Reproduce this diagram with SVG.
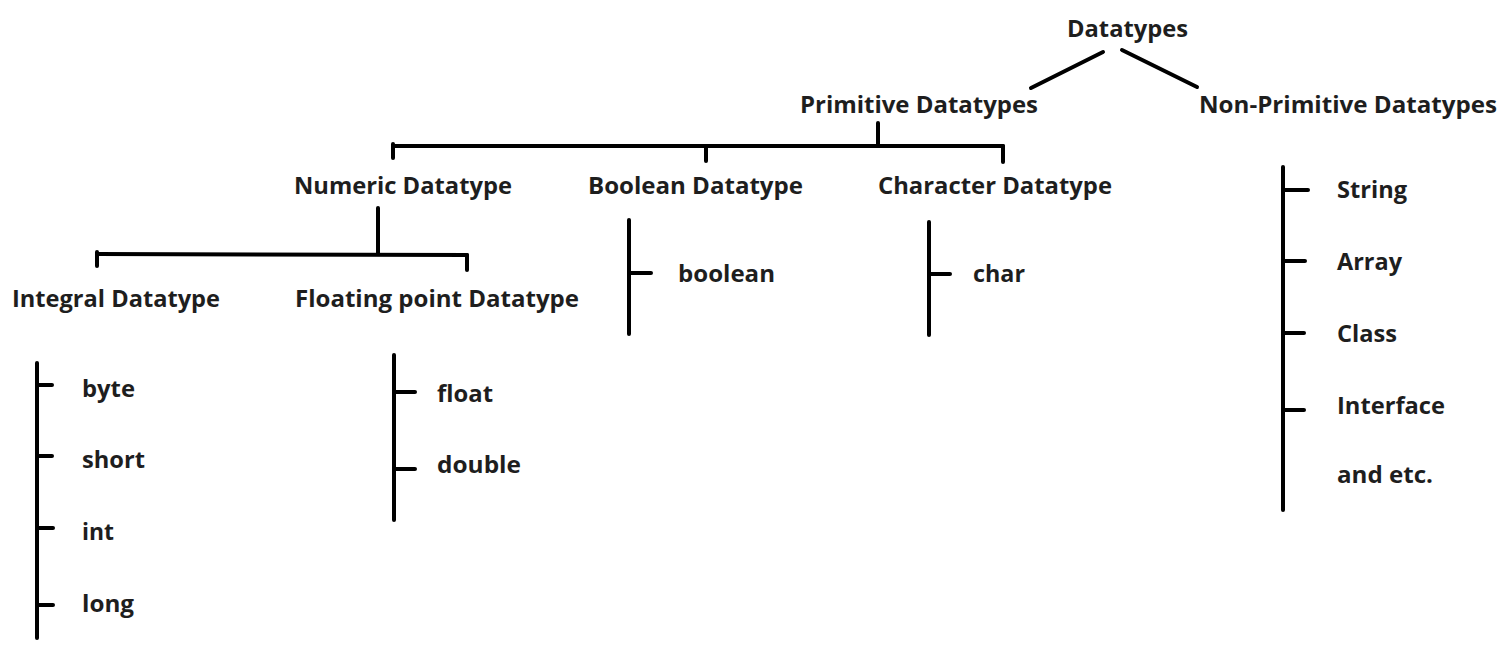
<svg xmlns="http://www.w3.org/2000/svg" width="1502" height="666" viewBox="0 0 1502 666">
<style>
text{font-family:"Open Sans","Noto Sans","Liberation Sans",sans-serif;font-weight:bold;font-size:24px;fill:#1e1e1e}
.c line{stroke:#000;stroke-width:4;stroke-linecap:round}
</style>
<rect width="1502" height="666" fill="#fff"/>
<g class="c" id="connectors">
<line x1="1103" y1="52" x2="1031" y2="88"/>
<line x1="1122" y1="50" x2="1197" y2="87"/>
<line x1="878" y1="123" x2="878" y2="146"/>
<line x1="393" y1="146" x2="1003" y2="146"/>
<line x1="393" y1="144" x2="393" y2="158"/>
<line x1="706" y1="146" x2="706" y2="161"/>
<line x1="1003" y1="146" x2="1003" y2="162"/>
<line x1="378" y1="208" x2="378" y2="254"/>
<line x1="97" y1="254" x2="467" y2="255"/>
<line x1="97" y1="252" x2="97" y2="266"/>
<line x1="467" y1="255" x2="467" y2="270"/>
<line x1="37" y1="363" x2="37" y2="638"/>
<line x1="37" y1="385" x2="52" y2="385"/>
<line x1="37" y1="456" x2="52" y2="456"/>
<line x1="37" y1="528" x2="53" y2="528"/>
<line x1="37" y1="605" x2="53" y2="605"/>
<line x1="394" y1="355" x2="394" y2="520"/>
<line x1="394" y1="392" x2="415" y2="392"/>
<line x1="394" y1="469" x2="415" y2="469"/>
<line x1="629" y1="220" x2="629" y2="334"/>
<line x1="629" y1="273" x2="651" y2="273"/>
<line x1="929" y1="222" x2="929" y2="335"/>
<line x1="929" y1="274" x2="950" y2="274"/>
<line x1="1283" y1="167" x2="1283" y2="510"/>
<line x1="1283" y1="190" x2="1308" y2="190"/>
<line x1="1283" y1="261" x2="1305" y2="261"/>
<line x1="1283" y1="333" x2="1304" y2="333"/>
<line x1="1283" y1="410" x2="1304" y2="410"/>
</g>
<g id="n-datatypes"><text x="1067" y="37" textLength="121" lengthAdjust="spacingAndGlyphs">Datatypes</text></g>
<g id="n-primitive"><text x="800" y="113" textLength="238" lengthAdjust="spacingAndGlyphs">Primitive Datatypes</text></g>
<g id="n-nonprimitive"><text x="1199" y="113" textLength="298" lengthAdjust="spacingAndGlyphs">Non-Primitive Datatypes</text></g>
<g id="n-numeric"><text x="294" y="194" textLength="218" lengthAdjust="spacingAndGlyphs">Numeric Datatype</text></g>
<g id="n-boolean-dt"><text x="588" y="194" textLength="215" lengthAdjust="spacingAndGlyphs">Boolean Datatype</text></g>
<g id="n-character-dt"><text x="878" y="194" textLength="234" lengthAdjust="spacingAndGlyphs">Character Datatype</text></g>
<g id="n-integral"><text x="12" y="307" textLength="208" lengthAdjust="spacingAndGlyphs">Integral Datatype</text></g>
<g id="n-floating"><text x="295" y="307" textLength="284" lengthAdjust="spacingAndGlyphs">Floating point Datatype</text></g>
<g id="n-byte"><text x="82" y="397" textLength="53" lengthAdjust="spacingAndGlyphs">byte</text></g>
<g id="n-short"><text x="82" y="468" textLength="63" lengthAdjust="spacingAndGlyphs">short</text></g>
<g id="n-int"><text x="82" y="540" textLength="32" lengthAdjust="spacingAndGlyphs">int</text></g>
<g id="n-long"><text x="82" y="612" textLength="52" lengthAdjust="spacingAndGlyphs">long</text></g>
<g id="n-float"><text x="437" y="402" textLength="56" lengthAdjust="spacingAndGlyphs">float</text></g>
<g id="n-double"><text x="437" y="473" textLength="84" lengthAdjust="spacingAndGlyphs">double</text></g>
<g id="n-boolean"><text x="678" y="282" textLength="97" lengthAdjust="spacingAndGlyphs">boolean</text></g>
<g id="n-char"><text x="973" y="282" textLength="52" lengthAdjust="spacingAndGlyphs">char</text></g>
<g id="n-string"><text x="1337" y="198" textLength="70" lengthAdjust="spacingAndGlyphs">String</text></g>
<g id="n-array"><text x="1337" y="270" textLength="65" lengthAdjust="spacingAndGlyphs">Array</text></g>
<g id="n-class"><text x="1337" y="342" textLength="60" lengthAdjust="spacingAndGlyphs">Class</text></g>
<g id="n-interface"><text x="1337" y="414" textLength="108" lengthAdjust="spacingAndGlyphs">Interface</text></g>
<g id="n-etc"><text x="1337" y="483" textLength="96" lengthAdjust="spacingAndGlyphs">and etc.</text></g>
</svg>
